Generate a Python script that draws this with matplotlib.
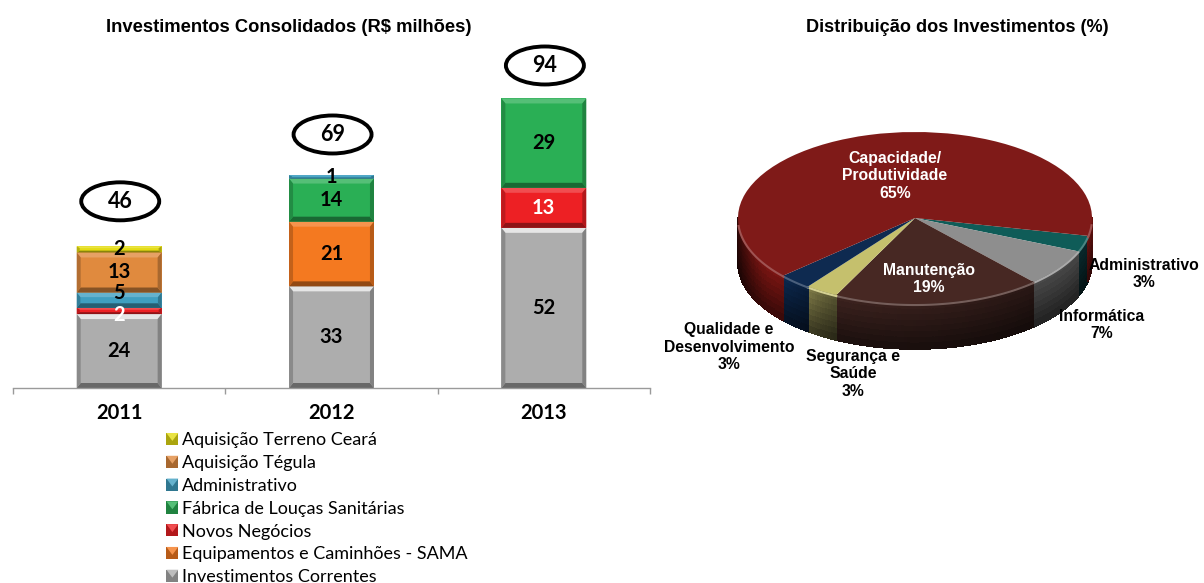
import matplotlib
matplotlib.use("Agg")
import matplotlib.pyplot as plt
import numpy as np
from matplotlib.collections import PolyCollection
from matplotlib.colors import to_rgb
from matplotlib.patches import Ellipse, Polygon, Rectangle
from matplotlib.legend_handler import HandlerPatch

W, H = 1204, 583

anos = ["2011", "2012", "2013"]
totais = [46, 69, 94]

correntes = [24, 33, 52]
sama = [0, 21, 0]
novos = [2, 0, 13]
fabrica = [0, 14, 29]
administrativo = [5, 1, 0]
tegula = [13, 0, 0]
terreno = [2, 0, 0]

# de baixo para cima
series = [correntes, sama, novos, fabrica, administrativo, tegula, terreno]
nomes = ["Investimentos Correntes", "Equipamentos e Caminhões - SAMA", "Novos Negócios",
         "Fábrica de Louças Sanitárias", "Administrativo", "Aquisição Tégula",
         "Aquisição Terreno Ceará"]
cores = ["#adadad", "#f47920", "#ed2024", "#2aaf55", "#3f9fc0", "#e08a3e", "#e4dc14"]

pie_nomes = ["Administrativo", "Informática", "Manutenção", "Segurança e Saúde",
             "Qualidade e Desenvolvimento", "Capacidade/Produtividade"]
pie_valores = [3, 7, 19, 3, 3, 65]
pie_cores = ["#0f5c58", "#8e8e8e", "#472823", "#c5c06d", "#0e2a50", "#7f1a18"]
pie_lados = ["#0a3034", "#555555", "#3f2420", "#b8b268", "#0c2a52", "#7a1512"]


def clarear(cor, f):
    r = np.array(to_rgb(cor))
    return tuple(r + (1 - r) * f)


def escurecer(cor, f):
    return tuple(np.array(to_rgb(cor)) * (1 - f))


def fx(px):
    return px / W


def fy(py):
    return 1 - py / H


class Swatch(HandlerPatch):
    def create_artists(self, legend, orig, xd, yd, w, h, fs, trans):
        cor = orig.get_facecolor()
        x0, y0 = -xd, -yd
        base = Rectangle((x0, y0), w, h, fc=escurecer(cor, 0.25), ec="none", transform=trans)
        tri = Polygon([(x0, y0 + h), (x0 + w, y0 + h), (x0 + w * 0.5, y0 + h * 0.35)],
                      fc=clarear(cor, 0.2), ec="none", transform=trans)
        return [base, tri]


plt.rcParams["font.family"] = ["Liberation Sans", "DejaVu Sans"]
lato = ["Lato", "DejaVu Sans"]
fig = plt.figure(figsize=(W / 100, H / 100), dpi=100)

# barras
ax = fig.add_axes([fx(13), fy(388), (650 - 13) / W, (388 - 30) / H])
ax.patch.set_alpha(0)
px_x = (650 - 13) / 3
px_y = 3.08
ax.set_xlim(-0.5, 2.5)
ax.set_ylim(0, 358 / px_y)

x = np.arange(len(anos))
base = np.zeros(len(anos))
conjuntos = []
for vals, nome, cor in zip(series, nomes, cores):
    b = ax.bar(x, vals, 0.4, bottom=base, color=cor, label=nome, linewidth=0)
    conjuntos.append(b)
    base = base + np.array(vals)

for b, cor in zip(conjuntos, cores):
    cinza = cor == "#adadad"
    topo_cor = "#e6e6e6" if cinza else clarear(cor, 0.2)
    for r in b:
        h = r.get_height()
        if h == 0:
            continue
        x0, y0, w = r.get_x(), r.get_y(), r.get_width()
        dy = min(5 / px_y, h * 0.3)
        dx = max(dy * px_y * 0.8, 3) / px_x
        x1, y1 = x0 + w, y0 + h
        ax.add_patch(Polygon([(x0, y1), (x1, y1), (x1 - dx, y1 - dy), (x0 + dx, y1 - dy)],
                             fc=topo_cor, ec="none"))
        ax.add_patch(Polygon([(x0, y0), (x1, y0), (x1 - dx, y0 + dy), (x0 + dx, y0 + dy)],
                             fc=escurecer(cor, 0.4), ec="none"))
        ax.add_patch(Polygon([(x0, y0), (x0, y1), (x0 + dx, y1 - dy), (x0 + dx, y0 + dy)],
                             fc=escurecer(cor, 0.2), ec="none"))
        ax.add_patch(Polygon([(x1, y0), (x1, y1), (x1 - dx, y1 - dy), (x1 - dx, y0 + dy)],
                             fc=escurecer(cor, 0.25), ec="none"))

# os rotulos de 2011 saem do centro para nao se encostarem
desloc = {(4, 0): 7, (2, 0): -4}
for s, (b, cor) in enumerate(zip(conjuntos, cores)):
    for i, r in enumerate(b):
        h = r.get_height()
        if h == 0:
            continue
        branco = cor == "#ed2024"
        ax.text(r.get_x() + r.get_width() / 2, r.get_y() + h / 2 + desloc.get((s, i), 0) / px_y,
                str(int(h)), ha="center", va="center", fontsize=14.5, fontweight="bold",
                family=lato, color="white" if branco else "black", zorder=5)

folgas = [45, 41, 33]
for i, (tot, folga) in enumerate(zip(totais, folgas)):
    yc = tot + folga / px_y
    ax.add_patch(Ellipse((i + 0.005, yc), 78 / px_x, 38 / px_y, fc="white", ec="black",
                         lw=2.8, clip_on=False, zorder=4))
    ax.text(i + 0.005, yc, str(tot), ha="center", va="center", fontsize=15.5,
            fontweight="bold", family=lato, zorder=5, clip_on=False)

for s in ["top", "left", "right"]:
    ax.spines[s].set_visible(False)
ax.spines["bottom"].set_color("#9a9a9a")
ax.spines["bottom"].set_linewidth(1.0)
ax.set_yticks([])
ax.set_xticks(x)
ax.set_xticklabels(anos, fontsize=14.5, fontweight="bold", family=lato)
ax.tick_params(axis="x", which="major", length=0, pad=11)
ax.set_xticks([-0.5, 0.5, 1.5, 2.5], minor=True)
ax.tick_params(axis="x", which="minor", length=4, color="#9a9a9a", width=1)

handles = [Rectangle((0, 0), 1, 1, fc=c) for c in cores[::-1]]
fig.legend(handles, nomes[::-1], loc="upper left", bbox_to_anchor=(fx(161), fy(427)),
           frameon=False, prop={"family": lato, "size": 13},
           labelspacing=0.376, handlelength=0.66, handleheight=0.66, handletextpad=0.22,
           borderpad=0.3, borderaxespad=0,
           handler_map={Rectangle: Swatch()})

# pizza
cx, cy, a, b_ = 915, 218, 177, 86
prof = 45
ax2 = fig.add_axes([fx(cx - a - 4), fy(cy + b_ + prof + 4), (2 * a + 8) / W, (2 * b_ + prof + 8) / H])
ax2.pie(pie_valores, colors=pie_cores, startangle=-12, counterclock=False, radius=1,
        wedgeprops={"linewidth": 0})
ax2.set_aspect("auto")
ax2.set_xlim(-(a + 4) / a, (a + 4) / a)
ax2.set_ylim(-(b_ + prof + 4) / b_, (b_ + 4) / b_)
d = prof / b_


def brilho(t):
    # luz da parede conforme o angulo
    if t < -116:
        return 0.3 + 0.7 * np.exp(-((t + 143) / 22) ** 2)
    if t < -48:
        return 0.95 - 0.3 * (t + 116) / 68
    return 0.85


# parede lateral do disco
fronteiras = -12 - np.cumsum([0] + pie_valores) * 3.6
quads, cq = [], []
for v0, v1, cor in zip(fronteiras[:-1], fronteiras[1:], pie_lados):
    ts = np.arange(v1, v0, 1.0).tolist() + [v0]
    for t0, t1 in zip(ts[:-1], ts[1:]):
        tm = (t0 + t1) / 2
        if np.sin(np.radians(tm)) > 0:
            continue
        if tm < -180:
            tm = tm + 360
        f = brilho(tm)
        x0, x1 = np.cos(np.radians(t0)), np.cos(np.radians(t1))
        y0, y1 = np.sin(np.radians(t0)), np.sin(np.radians(t1))
        for k in range(8):
            s0, s1 = d * k / 8, d * (k + 1) / 8
            g = f * (1 - 0.5 * (k / 7))
            quads.append([(x0, y0 - s0), (x1, y1 - s0), (x1, y1 - s1), (x0, y0 - s1)])
            cq.append(escurecer(cor, 1 - g))
ax2.add_collection(PolyCollection(quads, facecolors=cq, edgecolors=cq, linewidths=0.5,
                                  antialiaseds=False, zorder=0))

# brilho na borda
for v0, v1, cor in zip(fronteiras[:-1], fronteiras[1:], pie_cores):
    ts = np.radians(np.linspace(v1, v0, 120))
    xs, ys = np.cos(ts), np.sin(ts) - 0.012
    ys[np.sin(ts) > -0.05] = np.nan
    ax2.plot(xs, ys, color=clarear(cor, 0.25), lw=1.5, zorder=3)

fig.text(fx(289), fy(27), "Investimentos Consolidados (R$ milhões)", ha="center", va="center",
         fontsize=13.2, fontweight="bold")
fig.text(fx(957), fy(27), "Distribuição dos Investimentos (%)", ha="center", va="center",
         fontsize=13.1, fontweight="bold")

rotulos = [
    (895, 176, "Capacidade/\nProdutividade\n65%", "white"),
    (929, 279, "Manutenção\n19%", "white"),
    (1144, 274, "Administrativo\n3%", "black"),
    (1102, 325, "Informática\n7%", "black"),
    (853, 374, "Segurança e\nSaúde\n3%", "black"),
    (729, 347, "Qualidade e\nDesenvolvimento\n3%", "black"),
]
for px, py, txt, cor in rotulos:
    fig.text(fx(px), fy(py), txt, ha="center", va="center", color=cor, fontsize=11.3,
             fontweight="bold", linespacing=1.2, zorder=10)

fig.savefig("out.png", dpi=100)
